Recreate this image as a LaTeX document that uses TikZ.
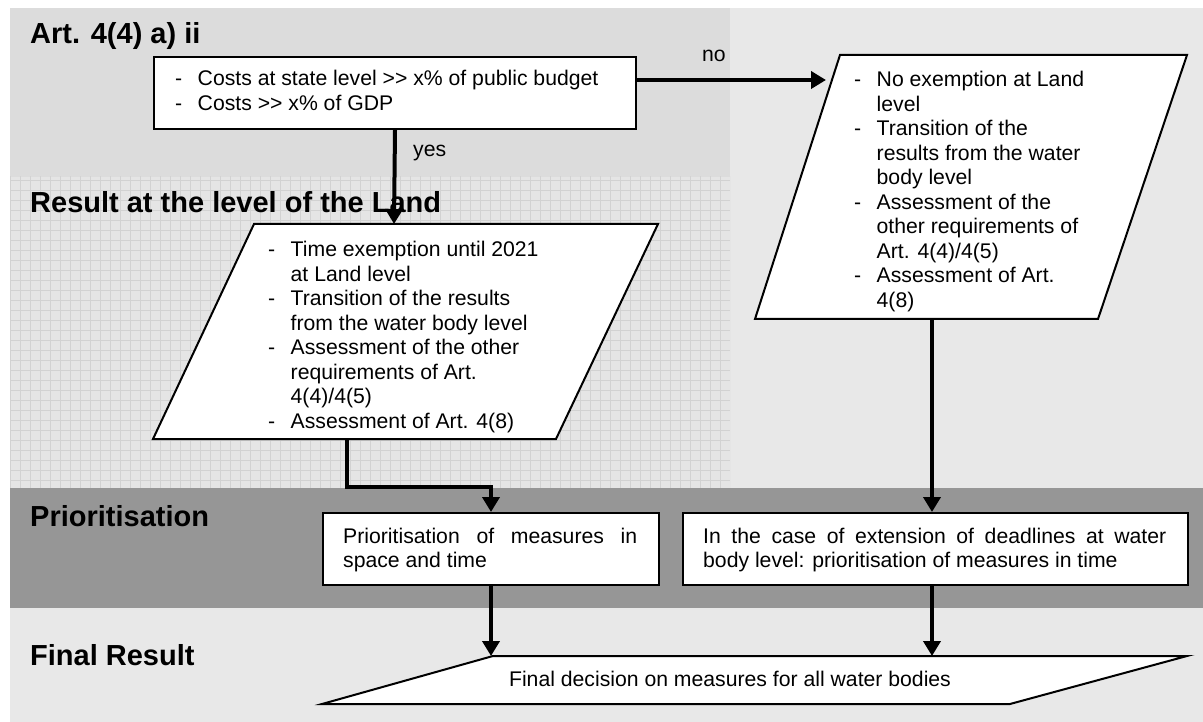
\documentclass[tikz,border=0pt]{standalone}
\usepackage{fontspec}
\setmainfont{Liberation Sans}
\usetikzlibrary{arrows.meta,calc}
\definecolor{bandA}{HTML}{DCDCDC}
\definecolor{bandR}{HTML}{E8E8E8}
\definecolor{bandG}{HTML}{E5E5E5}
\definecolor{gridc}{HTML}{D2D2D2}
\definecolor{bandP}{HTML}{969696}
\newcommand\dashitem[1]{\hbox{\hbox to 22.5pt{-\hfil}#1}}
\newcommand\contitem[1]{\hbox{\hskip22.5pt #1}}
\newcommand\stacklines[1]{\vtop{\baselineskip=24.5pt\lineskiplimit=-100pt\lineskip=0pt #1}}
\hbadness=10000 \hfuzz=200pt
\tikzset{
  box/.style={draw=black, line width=2pt, fill=white},
  conn/.style={line width=4pt, -{Triangle[width=17pt,length=15pt]}},
  head/.style={font=\fontsize{29}{32}\selectfont\bfseries, anchor=base west, inner sep=0pt},
  txt/.style={font=\fontsize{21.2}{24.5}\selectfont, anchor=base west, inner sep=0pt},
  rectbox/.style={box, anchor=north west, inner sep=0pt, minimum height=72pt},
}
\begin{document}
\begin{tikzpicture}[x=1pt,y=-1pt]
\useasboundingbox (0,0) rectangle (1203,722);
% backgrounds
\fill[white] (0,0) rectangle (1203,722);
\fill[bandR] (730,8) rectangle (1203,488);
\fill[bandA] (10,8) rectangle (730,177);
\fill[bandG] (10,177) rectangle (730,488);
\begin{scope}
  \clip (10,177) rectangle (730,488);
  \draw[gridc, line width=0.8pt, step=10pt] (10,490) grid (730,170);
\end{scope}
\fill[bandP] (10,488) rectangle (1203,608);
\fill[bandR] (10,608) rectangle (1203,722);

% headings
\node[head] (hA) at (30,44) {Art. 4(4) a) ii};
\node[head] (hB) at (30,213) {Result at the level of the Land};
\node[head] (hC) at (30,526) {Prioritisation};
\node[head] (hD) at (30,665) {Final Result};

% criterion box
\node[rectbox, minimum width=482pt] (crit) at (153,56) {};
\node[txt] (critT) at (175,86) {\stacklines{%
  \dashitem{Costs at state level >\kern0pt> x\% of public budget}%
  \dashitem{Costs >\kern0pt> x\% of GDP}}};
\coordinate (critNo) at (635,80);

% left parallelogram
\draw[box] (254,224) -- (658,224) -- (556,439) -- (153,439) -- cycle;
\coordinate (lpIn) at (394,224);
\coordinate (lpOut) at (347,439);
\node[txt] (lpT) at (268,257) {\stacklines{%
  \dashitem{Time exemption until 2021}%
  \contitem{at Land level}%
  \dashitem{Transition of the results}%
  \contitem{from the water body level}%
  \dashitem{Assessment of the other}%
  \contitem{requirements of Art.}%
  \contitem{4(4)/4(5)}%
  \dashitem{Assessment of Art. 4(8)}}};

% right parallelogram
\draw[box] (840,55) -- (1187,55) -- (1098,319) -- (755,319) -- cycle;
\coordinate (rpIn) at (826,80);
\coordinate (rpOut) at (932,319);
\node[txt] (rpT) at (854,87) {\stacklines{%
  \dashitem{No exemption at Land}%
  \contitem{level}%
  \dashitem{Transition of the}%
  \contitem{results from the water}%
  \contitem{body level}%
  \dashitem{Assessment of the}%
  \contitem{other requirements of}%
  \contitem{Art. 4(4)/4(5)}%
  \dashitem{Assessment of Art.}%
  \contitem{4(8)}}};

% prioritisation boxes
\node[rectbox, minimum width=336pt] (pr1) at (322,512) {};
\node[txt] (pr1T) at (343,543) {\stacklines{%
  \hbox to 294pt{Prioritisation of measures in}%
  \hbox{space and time}}};
\node[rectbox, minimum width=505pt] (pr2) at (682,512) {};
\node[txt] (pr2T) at (703,543) {\stacklines{%
  \hbox to 463pt{In the case of extension of deadlines at water}%
  \hbox{body level: prioritisation of measures in time}}};

% final parallelogram
\draw[box] (493,656) -- (1187,656) -- (1010,704) -- (322,704) -- cycle;
\coordinate (finTop) at (700,656);
\node[txt, anchor=base] (finT) at (730,686) {Final decision on measures for all water bodies};

% labels
\node[txt] (noL) at (702,62) {no};
\node[txt] (yesL) at (413,157) {yes};

% connectors
\draw[conn] (critNo) -- (rpIn);
\draw[conn] (crit.south) -- (lpIn);
\draw[conn] (lpOut) -- ++(0,48) -| (pr1.north);
\draw[conn] (rpOut) -- (rpOut |- pr2.north);
\draw[conn] (pr1.south) -- (pr1.south |- finTop);
\draw[conn] (rpOut |- pr2.south) -- (rpOut |- finTop);
\end{tikzpicture}
\end{document}
